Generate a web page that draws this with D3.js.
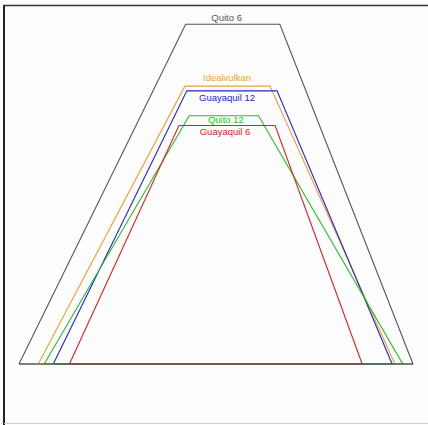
<!DOCTYPE html>
<html><head><meta charset="utf-8">
<script src="https://cdn.jsdelivr.net/npm/d3@7"></script>
<style>html,body{margin:0;padding:0;background:#fff;}svg{display:block;}</style>
</head><body>
<svg id="chart" width="428" height="425"></svg>
<script>
// Volcano profiles: x positions (relative units, 0..100) of base-left, top-left, top-right, base-right; height (0..100)
const names      = ["Quito 6", "Idealvulkan", "Guayaquil 12", "Quito 12", "Guayaquil 6"];
const baseLeft   = [0,    4.9,  8.7,  6.4,  12.8];
const topLeft    = [42.3, 42.1, 42.6, 43.2, 40.6];
const topRight   = [66.2, 63.7, 65.5, 60.8, 65.0];
const baseRight  = [100,  95.4, 94.7, 97.4, 87.1];
const heights    = [100,  81.8, 80.4, 73.1, 70.2];
const colors     = ["#555555", "#f0a030", "#2222dd", "#22c022", "#e02020"];
const labelX     = [52.7, 52.8, 52.8, 52.5, 52.3];
const labelDy    = [-3.5, -5, 10.5, 7.5, 9.8];

const svg = d3.select("#chart");
svg.append("rect").attr("x", 0).attr("y", 0).attr("width", 428).attr("height", 425).attr("fill", "#fdfdfd");
// frame
svg.append("line").attr("x1", 4).attr("x2", 4).attr("y1", 5).attr("y2", 425).attr("stroke", "#222").attr("stroke-width", 2);
svg.append("line").attr("x1", 3).attr("x2", 428).attr("y1", 5.5).attr("y2", 5.5).attr("stroke", "#333").attr("stroke-width", 1.5);
svg.append("line").attr("x1", 4).attr("x2", 428).attr("y1", 423.5).attr("y2", 423.5).attr("stroke", "#ccc").attr("stroke-width", 1);

const x = d3.scaleLinear().domain([0, 100]).range([19, 413]);
const y = d3.scaleLinear().domain([0, 100]).range([364, 24.3]);

const line = d3.line().x(d => x(d[0])).y(d => y(d[1]));

names.forEach((n, i) => {
  const pts = [[baseLeft[i], 0], [topLeft[i], heights[i]], [topRight[i], heights[i]], [baseRight[i], 0], [baseLeft[i], 0]];
  svg.append("path").attr("d", line(pts)).attr("fill", "none")
    .attr("stroke", colors[i]).attr("stroke-width", 1.1).attr("stroke-linejoin", "miter");
});
// redraw base of tallest on top
svg.append("path").attr("d", line([[baseLeft[0], 0], [baseRight[0], 0]])).attr("stroke", colors[0]).attr("stroke-width", 1.2);

names.forEach((n, i) => {
  svg.append("text").attr("x", x(labelX[i])).attr("y", y(heights[i]) + labelDy[i])
    .attr("text-anchor", "middle").attr("fill", colors[i])
    .attr("font-family", "Liberation Sans, Arial, sans-serif").attr("font-size", 9.5)
    .text(n);
});
</script>
</body></html>
